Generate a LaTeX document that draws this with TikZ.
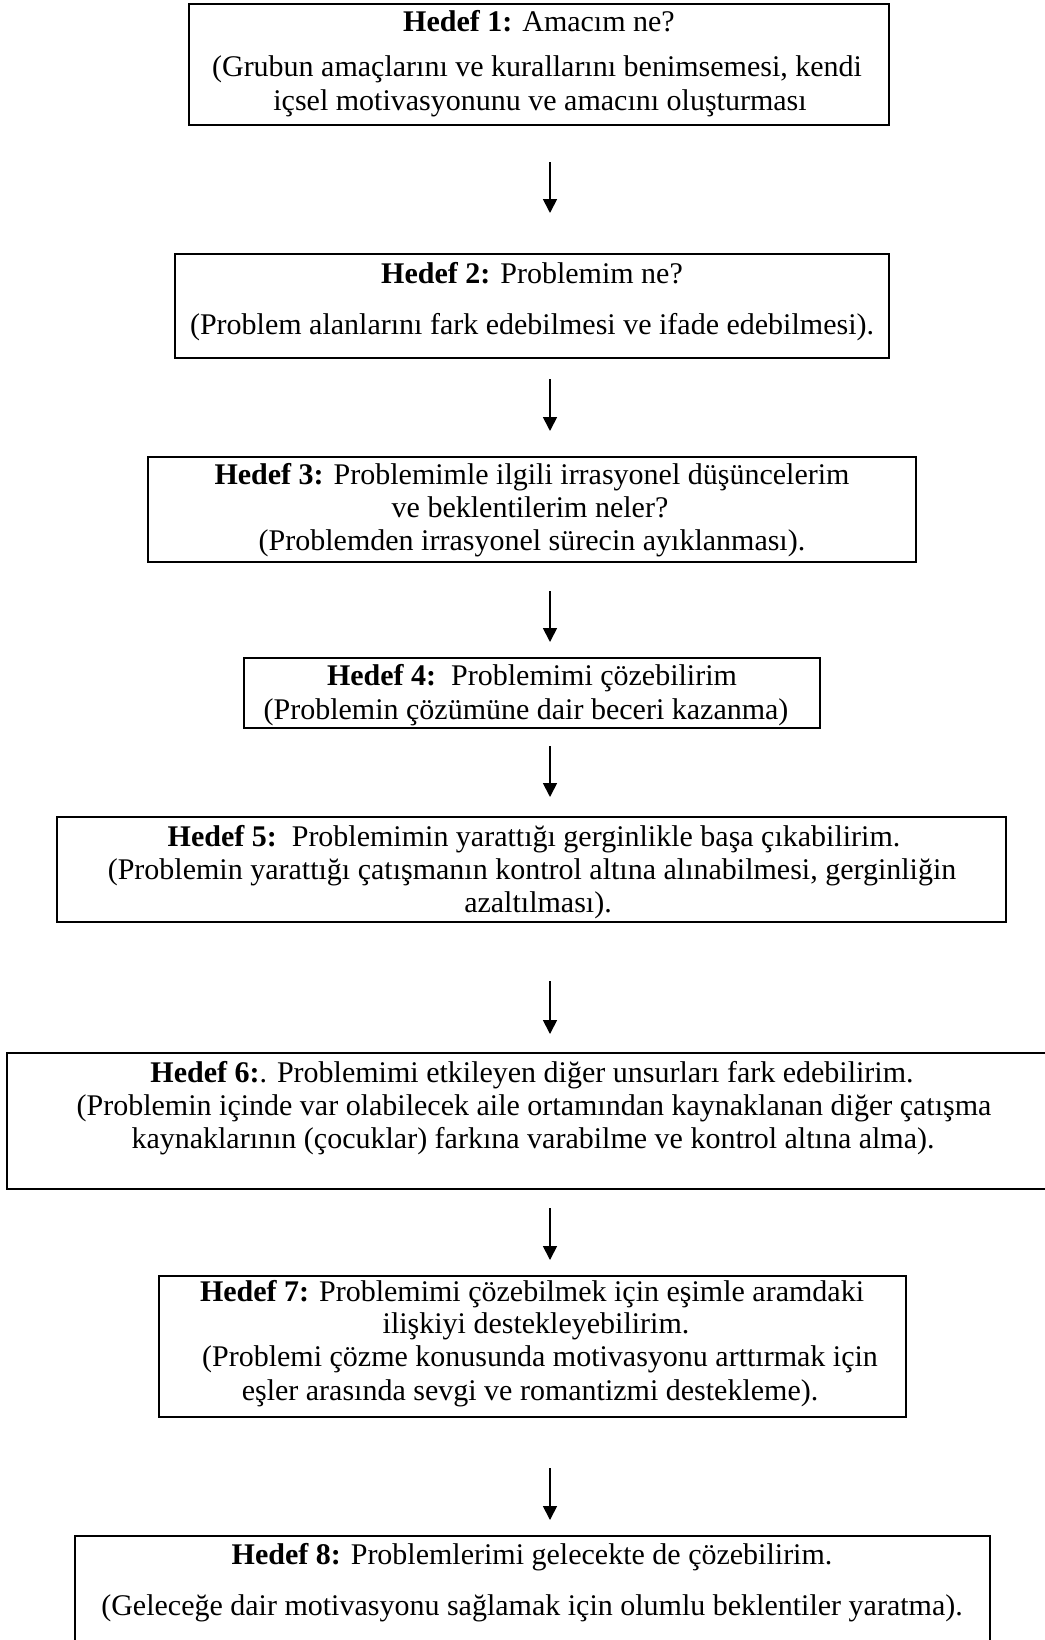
\documentclass[tikz,border=0pt]{standalone}
\usepackage{fontspec}
\setmainfont{Liberation Serif}
\usetikzlibrary{fit,arrows.meta}
\tikzset{
  box/.style={draw=black, line width=0.7pt, inner sep=0pt, fill=none},
  thinbox/.style={box, line width=0.45pt},
  txt/.style={inner sep=0pt, anchor=base, font=\fontsize{12pt}{14pt}\selectfont},
  arr/.style={line width=0.7pt, -{Triangle[length=5.6pt,width=5.6pt]}}
}
\begin{document}
\begin{tikzpicture}[x=0.4pt,y=-0.4pt]
\useasboundingbox (0,0) rectangle (1045,1640);
\clip (0,0) rectangle (1045,1640);
\fill[white] (0,0) rectangle (1045,1640);

% boxes
\node[box, fit={(189,4) (889,125)}] (b1) {};
\node[box, fit={(175,254) (889,358)}] (b2) {};
\node[box, fit={(148,457) (916,562)}] (b3) {};
\node[thinbox, fit={(244,658) (820,728)}] (b4) {};
\node[box, fit={(57,817) (1006,922)}] (b5) {};
\node[box, fit={(7,1053) (1060,1189)}] (b6) {};
\node[box, fit={(159,1276) (906,1417)}] (b7) {};
\node[box, fit={(75,1536) (990,1660)}] (b8) {};

% texts
\node[txt] (t1a) at (539,31) {\textbf{Hedef 1:} Amacım ne?};
\node[txt] (t1b) at (537,76) {(Grubun amaçlarını ve kurallarını benimsemesi, kendi};
\node[txt] (t1c) at (540,110) {içsel motivasyonunu ve amacını oluşturması};

\node[txt] (t2a) at (532,283) {\textbf{Hedef 2:} Problemim ne?};
\node[txt] (t2b) at (532,334) {(Problem alanlarını fark edebilmesi ve ifade edebilmesi).};

\node[txt] (t3a) at (532,484) {\textbf{Hedef 3:} Problemimle ilgili irrasyonel düşüncelerim};
\node[txt] (t3b) at (530,517) {ve beklentilerim neler?};
\node[txt] (t3c) at (532,550) {(Problemden irrasyonel sürecin ayıklanması).};

\node[txt] (t4a) at (532,685) {\textbf{Hedef 4:}\ \ Problemimi çözebilirim};
\node[txt] (t4b) at (526,719) {(Problemin çözümüne dair beceri kazanma)};

\node[txt] (t5a) at (534,846) {\textbf{Hedef 5:}\ \ Problemimin yarattığı gerginlikle başa çıkabilirim.};
\node[txt] (t5b) at (532,879) {(Problemin yarattığı çatışmanın kontrol altına alınabilmesi, gerginliğin};
\node[txt] (t5c) at (538,912) {azaltılması).};

\node[txt] (t6a) at (532,1082) {\textbf{Hedef 6:}. Problemimi etkileyen diğer unsurları fark edebilirim.};
\node[txt] (t6b) at (534,1115) {(Problemin içinde var olabilecek aile ortamından kaynaklanan diğer çatışma};
\node[txt] (t6c) at (533,1148) {kaynaklarının (çocuklar) farkına varabilme ve kontrol altına alma).};

\node[txt] (t7a) at (532,1301) {\textbf{Hedef 7:} Problemimi çözebilmek için eşimle aramdaki};
\node[txt] (t7b) at (536,1333) {ilişkiyi destekleyebilirim.};
\node[txt] (t7c) at (540,1366) {(Problemi çözme konusunda motivasyonu arttırmak için};
\node[txt] (t7d) at (530,1400) {eşler arasında sevgi ve romantizmi destekleme).};

\node[txt] (t8a) at (532,1564) {\textbf{Hedef 8:} Problemlerimi gelecekte de çözebilirim.};
\node[txt] (t8b) at (532,1615) {(Geleceğe dair motivasyonu sağlamak için olumlu beklentiler yaratma).};

% arrows
\coordinate (a1s) at (550,162); \coordinate (a1e) at (550,213);
\coordinate (a2s) at (550,379); \coordinate (a2e) at (550,431);
\coordinate (a3s) at (550,591); \coordinate (a3e) at (550,642);
\coordinate (a4s) at (550,746); \coordinate (a4e) at (550,797);
\coordinate (a5s) at (550,981); \coordinate (a5e) at (550,1034);
\coordinate (a6s) at (550,1208); \coordinate (a6e) at (550,1260);
\coordinate (a7s) at (550,1468); \coordinate (a7e) at (550,1520);
\draw[arr] (a1s) -- (a1e);
\draw[arr] (a2s) -- (a2e);
\draw[arr] (a3s) -- (a3e);
\draw[arr] (a4s) -- (a4e);
\draw[arr] (a5s) -- (a5e);
\draw[arr] (a6s) -- (a6e);
\draw[arr] (a7s) -- (a7e);
\end{tikzpicture}
\end{document}
